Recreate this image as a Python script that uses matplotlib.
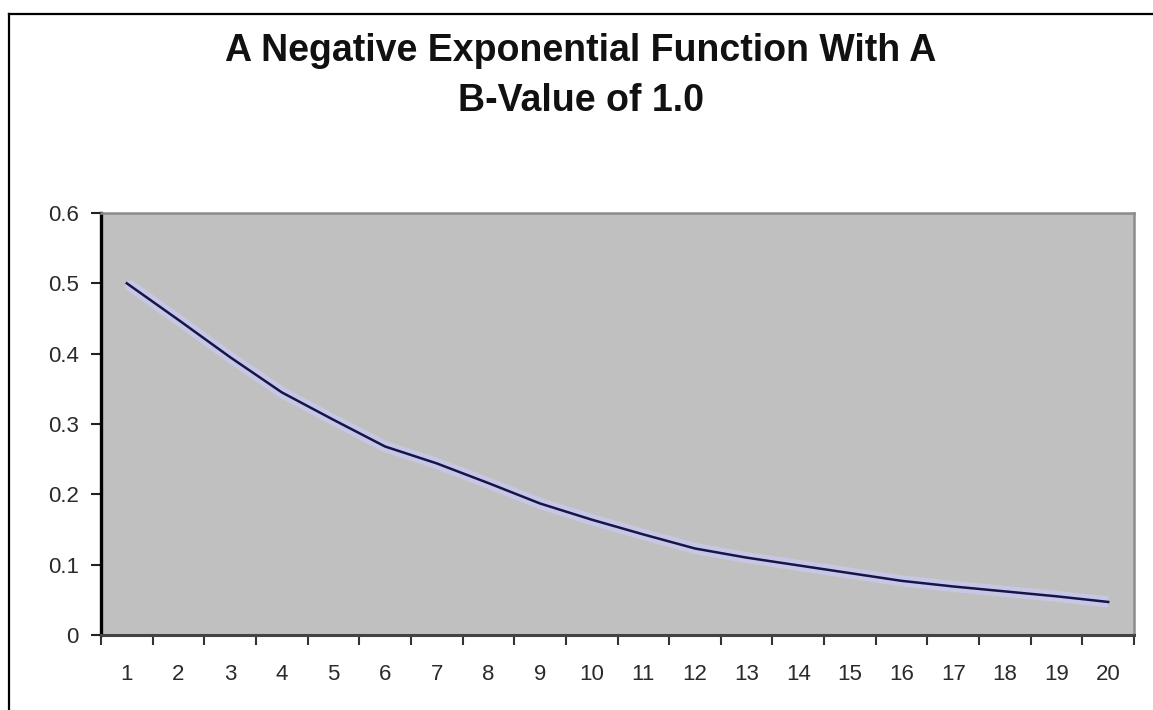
import matplotlib
matplotlib.use("Agg")
import matplotlib.pyplot as plt
from matplotlib.lines import Line2D

plt.rcParams['font.family'] = ['Liberation Sans', 'DejaVu Sans']

# negative exponential, b = 1.0
periods = list(range(1, 21))
values = [0.500, 0.448, 0.395, 0.345, 0.306, 0.268, 0.244, 0.216, 0.187, 0.164,
          0.143, 0.123, 0.110, 0.099, 0.088, 0.077, 0.069, 0.062, 0.055, 0.047]
y_ticks = [0, 0.1, 0.2, 0.3, 0.4, 0.5, 0.6]
y_labels = ['0', '0.1', '0.2', '0.3', '0.4', '0.5', '0.6']

W, H = 1153, 710
fig = plt.figure(figsize=(W / 100, H / 100), dpi=100)
fig.patch.set_facecolor('white')

# chart frame (runs off the right and bottom edges)
fig.add_artist(Line2D([9 / W, 9 / W], [1 - 14 / H, 0], transform=fig.transFigure,
                      color='black', lw=1.6))
fig.add_artist(Line2D([9 / W, 1], [1 - 14 / H, 1 - 14 / H], transform=fig.transFigure,
                      color='black', lw=1.6))

left, right, top, bottom = 101, 1134, 213, 635
ax = fig.add_axes([left / W, 1 - bottom / H, (right - left) / W, (bottom - top) / H])
ax.set_facecolor('#c0c0c0')

# soft halo under the series line, then the line itself
ax.plot(periods, values, color='#c8c8ea', lw=8, alpha=0.9, solid_capstyle='butt', zorder=2)
ax.plot(periods, values, color='#15154a', lw=1.8, zorder=3)

ax.set_xlim(0.5, 20.5)
ax.set_ylim(0, 0.6)

# category axis: ticks between categories, labels in the middle
ax.set_xticks([p + 0.5 for p in [0] + periods])
ax.set_xticklabels([])
ax.set_xticks(periods, minor=True)
ax.set_xticklabels([str(p) for p in periods], minor=True)
ax.tick_params(axis='x', which='major', direction='out', length=7, width=1.5, color='#333333')
ax.tick_params(axis='x', which='minor', length=0, pad=21, labelsize=16, labelcolor='#2a2a2a')

ax.set_yticks(y_ticks)
ax.set_yticklabels(y_labels)
ax.tick_params(axis='y', direction='out', length=7, width=1.5, color='#222222',
               pad=9, labelsize=16, labelcolor='#2a2a2a')

ax.spines['left'].set_color('black')
ax.spines['left'].set_linewidth(2.4)
ax.spines['bottom'].set_color('#444444')
ax.spines['bottom'].set_linewidth(2.2)
ax.spines['top'].set_color('#8c8c8c')
ax.spines['top'].set_linewidth(1.8)
ax.spines['right'].set_color('#8c8c8c')
ax.spines['right'].set_linewidth(1.8)

fig.text(581 / W, 1 - 51 / H, 'A Negative Exponential Function With A',
         ha='center', va='center', fontsize=27, fontweight='bold', color='#111111')
fig.text(581 / W, 1 - 101 / H, 'B-Value of 1.0',
         ha='center', va='center', fontsize=27, fontweight='bold', color='#111111')

fig.savefig('out.png', dpi=100)
